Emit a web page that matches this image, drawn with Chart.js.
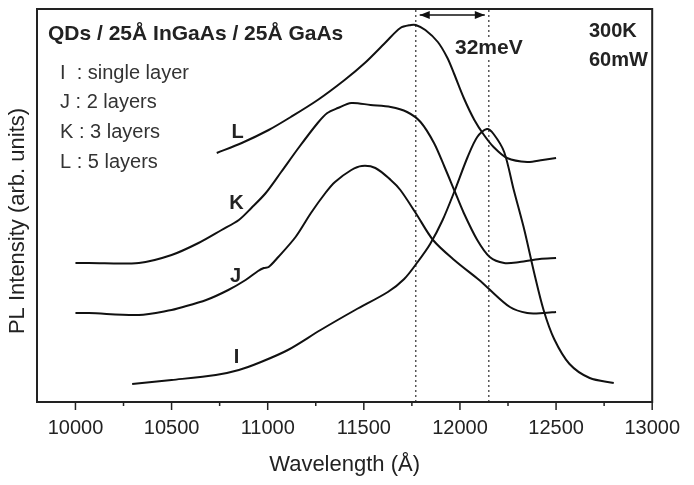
<!DOCTYPE html>
<html>
<head>
<meta charset="utf-8">
<script src="https://cdn.jsdelivr.net/npm/chart.js@4.4.0/dist/chart.umd.min.js"></script>
<style>
html, body { margin: 0; padding: 0; background: #fff; }
#wrap { width: 694px; height: 485px; }
</style>
</head>
<body>
<div id="wrap"><canvas id="plChart"></canvas></div>
<script>
// wavelength (Å) and PL intensity (arb. units)
const wlI = [10295, 10500, 10730, 10850, 10965, 11105, 11275, 11455, 11625, 11710, 11780, 11845, 11910, 11970, 12040, 12090, 12140, 12175, 12230, 12280, 12335, 12385, 12435, 12490, 12570, 12675, 12800];
const plI = [18, 22, 27, 32, 40, 52, 72, 92, 110, 123, 140, 158, 182, 210, 245, 265, 273, 268, 250, 212, 172, 130, 92, 63, 38, 24, 19];

const wlJ = [10000, 10070, 10330, 10500, 10540, 10680, 10795, 10885, 10950, 10980, 11005, 11055, 11145, 11225, 11300, 11350, 11435, 11490, 11560, 11640, 11690, 11770, 11860, 11970, 12100, 12140, 12260, 12350, 12435, 12500];
const plJ = [89, 89, 87, 92, 94, 102, 112, 122, 131, 134, 135, 145, 165, 189, 209, 220, 232, 236, 234, 222, 212, 189, 162, 142, 122, 115, 95, 89, 89, 90];

const wlK = [10000, 10070, 10330, 10500, 10640, 10760, 10850, 10915, 10990, 11070, 11160, 11260, 11310, 11365, 11435, 11535, 11640, 11725, 11795, 11865, 11920, 11970, 12020, 12090, 12155, 12230, 12310, 12415, 12500];
const plK = [139, 139, 139, 147, 159, 172, 182, 194, 209, 230, 254, 279, 289, 294, 299, 297, 295, 290, 280, 259, 235, 212, 189, 162, 145, 139, 140, 143, 144];

const wlL = [10735, 10865, 11005, 11120, 11260, 11400, 11505, 11610, 11690, 11745, 11770, 11820, 11885, 11935, 11970, 12020, 12075, 12125, 12175, 12245, 12350, 12430, 12500];
const plL = [249, 259, 272, 285, 302, 322, 339, 359, 374, 377, 377, 372, 360, 344, 328, 304, 282, 267, 255, 244, 240, 242, 244];

const peakLines = [11770, 12150]; // dotted markers: L peak and I peak
const xTicks = [10000, 10250, 10500, 10750, 11000, 11250, 11500, 11750, 12000, 12250, 12500, 12750, 13000];

const legendLines = ["I  : single layer", "J : 2 layers", "K : 3 layers", "L : 5 layers"];
const curveNames = ["I", "J", "K", "L"];
const curveLabelAt = [[10838, 45], [10833, 126], [10838, 199], [10843, 270]];

const FONT = "'Liberation Sans', Arial, sans-serif";

function pts(xs, ys) {
    return xs.map((x, i) => ({ x: x, y: ys[i] }));
}

function curve(xs, ys) {
    return {
        data: pts(xs, ys),
        borderColor: '#111',
        borderWidth: 2,
        pointRadius: 0,
        fill: false,
        tension: 0.3
    };
}

function dotted(x) {
    return {
        data: [{ x: x, y: 0 }, { x: x, y: 393 }],
        borderColor: '#555',
        borderWidth: 1.5,
        borderDash: [2, 3],
        pointRadius: 0,
        fill: false
    };
}

const annot = {
    id: 'annot',
    afterDraw(chart) {
        const ctx = chart.ctx;
        const a = chart.chartArea;
        const xs = chart.scales.x, ys = chart.scales.y;
        ctx.save();

        // frame
        ctx.strokeStyle = '#222';
        ctx.lineWidth = 2;
        ctx.strokeRect(a.left, a.top, a.right - a.left, a.bottom - a.top);

        // tick marks, major every 500
        ctx.lineWidth = 1.5;
        xs.ticks.forEach(t => {
            const px = xs.getPixelForValue(t.value);
            const len = t.value % 500 === 0 ? 8 : 4;
            ctx.beginPath();
            ctx.moveTo(px, a.bottom);
            ctx.lineTo(px, a.bottom + len);
            ctx.stroke();
        });

        ctx.fillStyle = '#222';
        ctx.textBaseline = 'middle';

        // axis titles
        ctx.font = '22px ' + FONT;
        ctx.textAlign = 'center';
        ctx.fillText('Wavelength (Å)', (a.left + a.right) / 2, 465);
        ctx.save();
        ctx.translate(18, 221);
        ctx.rotate(-Math.PI / 2);
        ctx.fillText('PL Intensity (arb. units)', 0, 0);
        ctx.restore();

        // heading + legend text
        ctx.textAlign = 'left';
        ctx.font = 'bold 21px ' + FONT;
        ctx.fillText('QDs / 25Å InGaAs / 25Å GaAs', 48, 34);
        ctx.font = '20px ' + FONT;
        ctx.fillStyle = '#333';
        legendLines.forEach((s, i) => ctx.fillText(s, 60, 73 + i * 29.7));

        ctx.fillStyle = '#222';
        ctx.font = 'bold 20px ' + FONT;
        ctx.fillText('300K', 589, 31);
        ctx.fillText('60mW', 589, 60);

        // curve letters
        ctx.textAlign = 'center';
        curveNames.forEach((n, i) => {
            const p = curveLabelAt[i];
            ctx.fillText(n, xs.getPixelForValue(p[0]), ys.getPixelForValue(p[1]));
        });

        // 32meV label over the dotted line
        ctx.font = 'bold 21px ' + FONT;
        ctx.textAlign = 'left';
        const w = ctx.measureText('32meV').width;
        ctx.fillStyle = '#fff';
        ctx.fillRect(454, 37, w + 2, 22);
        ctx.fillStyle = '#222';
        ctx.fillText('32meV', 455, 48);

        // double arrow between the two peaks
        const x1 = xs.getPixelForValue(peakLines[0]) + 4;
        const x2 = xs.getPixelForValue(peakLines[1]) - 4;
        const ya = 15;
        ctx.strokeStyle = '#111';
        ctx.lineWidth = 1.5;
        ctx.beginPath();
        ctx.moveTo(x1, ya);
        ctx.lineTo(x2, ya);
        ctx.stroke();
        ctx.fillStyle = '#111';
        [[x1, 1], [x2, -1]].forEach(([x, d]) => {
            ctx.beginPath();
            ctx.moveTo(x, ya);
            ctx.lineTo(x + d * 10, ya - 4);
            ctx.lineTo(x + d * 10, ya + 4);
            ctx.closePath();
            ctx.fill();
        });
        ctx.restore();
    }
};

const ctx = document.getElementById('plChart').getContext('2d');
new Chart(ctx, {
    type: 'line',
    data: {
        datasets: [
            curve(wlI, plI),
            curve(wlJ, plJ),
            curve(wlK, plK),
            curve(wlL, plL),
            dotted(peakLines[0]),
            dotted(peakLines[1])
        ]
    },
    options: {
        responsive: true,
        maintainAspectRatio: false,
        animation: false,
        layout: { padding: { left: 37, right: 38, top: 9, bottom: 0 } },
        plugins: {
            legend: { display: false },
            tooltip: { enabled: false }
        },
        scales: {
            x: {
                type: 'linear',
                min: 9800,
                max: 13000,
                afterBuildTicks: s => { s.ticks = xTicks.map(v => ({ value: v })); },
                afterFit: s => { s.height = 83; },
                grid: { display: false, drawTicks: false },
                border: { display: false },
                ticks: {
                    padding: 14,
                    color: '#222',
                    font: { family: FONT, size: 20 },
                    maxRotation: 0,
                    autoSkip: false,
                    callback: v => (v % 500 === 0 ? String(v) : '')
                }
            },
            y: {
                type: 'linear',
                min: 0,
                max: 393,
                display: false
            }
        }
    },
    plugins: [annot]
});
</script>
</body>
</html>
